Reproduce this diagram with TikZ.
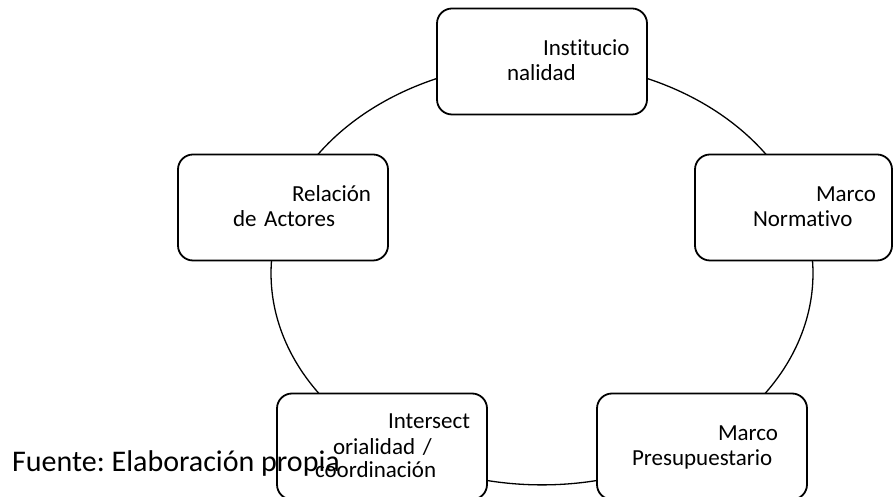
\documentclass[tikz,border=0pt]{standalone}
\usepackage{fontspec}
\setmainfont{Carlito}[Ligatures=CommonOff]
\usetikzlibrary{backgrounds}
\tikzset{
  box/.style={draw, line width=1.8pt, rounded corners=15pt, fill=white,
    minimum width=210pt, minimum height=106pt, text width=180pt,
    inner xsep=15pt, inner ysep=0pt, align=left,
    font=\fontsize{23}{25}\selectfont},
  ring/.style={line width=1.3pt}
}
\newcommand{\up}{\rule{0pt}{20pt}}
\newcommand{\dn}{\rule[-6pt]{0pt}{6pt}}
% one piece of the cycle, between two parametric angles
\newcommand{\ringarc}[2]{\draw[ring] ([shift={(#1:271pt and 211.5pt)}]ring)
  arc[start angle=#1, end angle=#2, x radius=271pt, y radius=211.5pt];}
\frenchspacing

\begin{document}
\begin{tikzpicture}[x=1pt,y=1pt]
\useasboundingbox (0,0) rectangle (893,497);
\coordinate (ring) at (542,223.6);

\node[box] (inst) at (542,435.5) {\hspace*{91pt}Institucio\up\\\hspace*{55pt}nalidad\dn};
\node[box] (rel) at (283,289.5) {\hspace*{99pt}Relación\up\\\hspace*{40pt}de Actores\dn};
\node[box, minimum width=197pt, text width=167pt] (norm) at (793.5,289.5) {\hspace*{106pt}Marco\up\\\hspace*{43pt}Normativo\dn};
\node[box] (inter) at (382,50.5) {\hspace*{96pt}Intersect\up\\[1pt]\hspace*{41pt}orialidad /\\[-2pt]\hspace*{23pt}coordinación\dn};
\node[box] (pres) at (702,50.5) {\hspace*{106pt}Marco\up\\\hspace*{20pt}Presupuestario\dn};

\node[anchor=base west, inner sep=0pt, font=\fontsize{30}{36}\selectfont] (fuente) at (12,25) {Fuente: Elaboración propia};

\begin{scope}[on background layer]
  \ringarc{110.8}{147.7} % inst -- rel
  \ringarc{174.6}{216}   % rel -- inter
  \ringarc{256.3}{283.7} % inter -- pres
  \ringarc{-36}{5.4}     % pres -- norm
  \ringarc{32.3}{69.2}   % norm -- inst
\end{scope}
\end{tikzpicture}
\end{document}
